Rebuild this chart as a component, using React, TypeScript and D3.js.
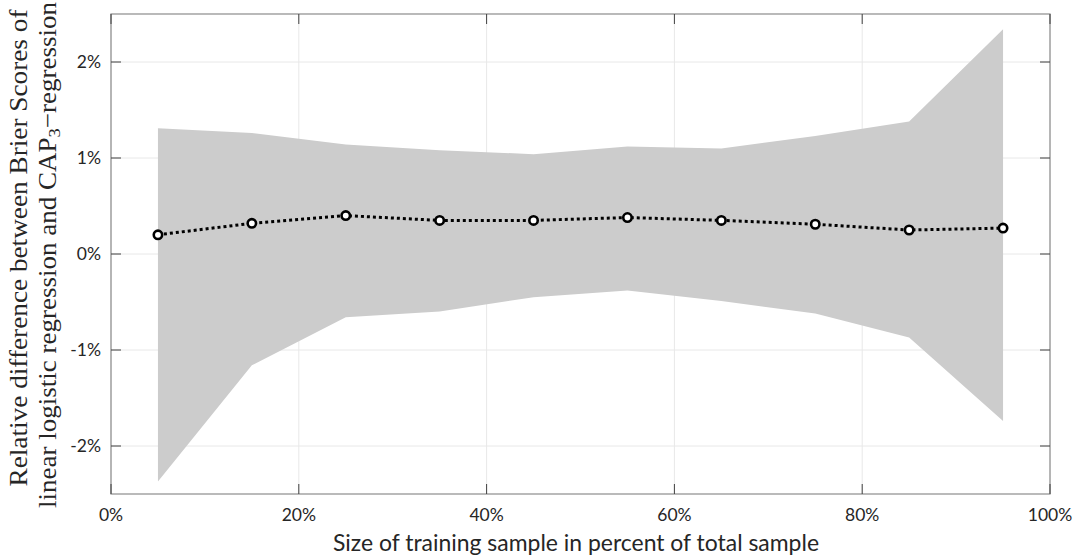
import React from "react";
import * as d3 from "d3";

// Training sample share (fraction of total sample)
const samplePct = [0.05, 0.15, 0.25, 0.35, 0.45, 0.55, 0.65, 0.75, 0.85, 0.95];
// Mean relative difference (%)
const meanDiff = [0.2, 0.32, 0.4, 0.35, 0.35, 0.38, 0.35, 0.31, 0.25, 0.27];
// Upper and lower bounds of the shaded range (%)
const upperBound = [1.31, 1.26, 1.14, 1.08, 1.04, 1.12, 1.1, 1.23, 1.38, 2.34];
const lowerBound = [-2.37, -1.16, -0.66, -0.6, -0.45, -0.38, -0.49, -0.62, -0.87, -1.74];

const xTicks = [0, 0.2, 0.4, 0.6, 0.8, 1.0];
const yTicks = [-2, -1, 0, 1, 2];

const W = 1076;
const H = 558;
const left = 111;
const right = 1050;
const top = 14;
const bottom = 494;

export default function App() {
  const x = d3.scaleLinear().domain([0, 1]).range([left, right]);
  const y = d3.scaleLinear().domain([-2.5, 2.5]).range([bottom, top]);

  const pts = samplePct.map((p, i) => ({ p, m: meanDiff[i], u: upperBound[i], l: lowerBound[i] }));

  const area = d3
    .area<(typeof pts)[number]>()
    .x((d) => x(d.p))
    .y0((d) => y(d.l))
    .y1((d) => y(d.u));
  const line = d3
    .line<(typeof pts)[number]>()
    .x((d) => x(d.p))
    .y((d) => y(d.m));

  const tickFont = "Lato, 'Open Sans', sans-serif";
  const axisColor = "#8c8c8c";
  const tickColor = "#404040";
  const serif = "'Liberation Serif', 'DejaVu Serif', serif";

  return (
    <svg width={W} height={H} style={{ position: "absolute", left: 0, top: 0 }}>
      <rect x={0} y={0} width={W} height={H} fill="#fff" />
      {/* grid */}
      {xTicks.map((t) => (
        <line key={"gx" + t} x1={x(t)} x2={x(t)} y1={top} y2={bottom} stroke="#e8e8e8" strokeWidth={1} />
      ))}
      {yTicks.map((t) => (
        <line key={"gy" + t} x1={left} x2={right} y1={y(t)} y2={y(t)} stroke="#e8e8e8" strokeWidth={1} />
      ))}
      {/* shaded range */}
      <path d={area(pts) ?? ""} fill="#cccccc" />
      {/* mean line */}
      <path
        d={line(pts) ?? ""}
        fill="none"
        stroke="#000"
        strokeWidth={3}
        strokeDasharray="3,3"
      />
      {pts.map((d, i) => (
        <circle key={i} cx={x(d.p)} cy={y(d.m)} r={4.2} fill="#fff" stroke="#000" strokeWidth={2.6} />
      ))}
      {/* axes box */}
      <rect x={left} y={top} width={right - left} height={bottom - top} fill="none" stroke={axisColor} strokeWidth={1.2} />
      {/* ticks */}
      {xTicks.map((t) => (
        <g key={"tx" + t}>
          <line x1={x(t)} x2={x(t)} y1={bottom} y2={bottom - 10} stroke={tickColor} strokeWidth={1} />
          <line x1={x(t)} x2={x(t)} y1={top} y2={top + 10} stroke={tickColor} strokeWidth={1} />
          <text
            x={x(t)}
            y={bottom + 27}
            textAnchor="middle"
            fontFamily={tickFont}
            fontSize={17.5}
            fill="#262626"
          >
            {d3.format(".0%")(t)}
          </text>
        </g>
      ))}
      {yTicks.map((t) => (
        <g key={"ty" + t}>
          <line x1={left} x2={left + 10} y1={y(t)} y2={y(t)} stroke={tickColor} strokeWidth={1} />
          <line x1={right} x2={right - 10} y1={y(t)} y2={y(t)} stroke={tickColor} strokeWidth={1} />
          <text
            x={left - 10}
            y={y(t)}
            dy="0.35em"
            textAnchor="end"
            fontFamily={tickFont}
            fontSize={17.5}
            fill="#262626"
          >
            {t + "%"}
          </text>
        </g>
      ))}
      {/* axis titles */}
      <text
        x={576}
        y={551}
        textAnchor="middle"
        fontFamily={tickFont}
        fontSize={23}
        fill="#262626"
        textLength={486}
        lengthAdjust="spacingAndGlyphs"
      >
        Size of training sample in percent of total sample
      </text>
      <g transform="translate(27,248) rotate(-90)">
        <text
          x={0}
          y={0}
          textAnchor="middle"
          fontFamily={serif}
          fontSize={25}
          fill="#262626"
          textLength={477}
          lengthAdjust="spacingAndGlyphs"
        >
          Relative difference between Brier Scores of
        </text>
      </g>
      <g transform="translate(56,255) rotate(-90)">
        <text
          x={0}
          y={0}
          textAnchor="middle"
          fontFamily={serif}
          fontSize={25}
          fill="#262626"
          textLength={506}
          lengthAdjust="spacingAndGlyphs"
        >
          linear logistic regression and CAP
          <tspan fontSize={17} dy={4}>3</tspan>
          <tspan dy={-4}>−regression</tspan>
        </text>
      </g>
    </svg>
  );
}
